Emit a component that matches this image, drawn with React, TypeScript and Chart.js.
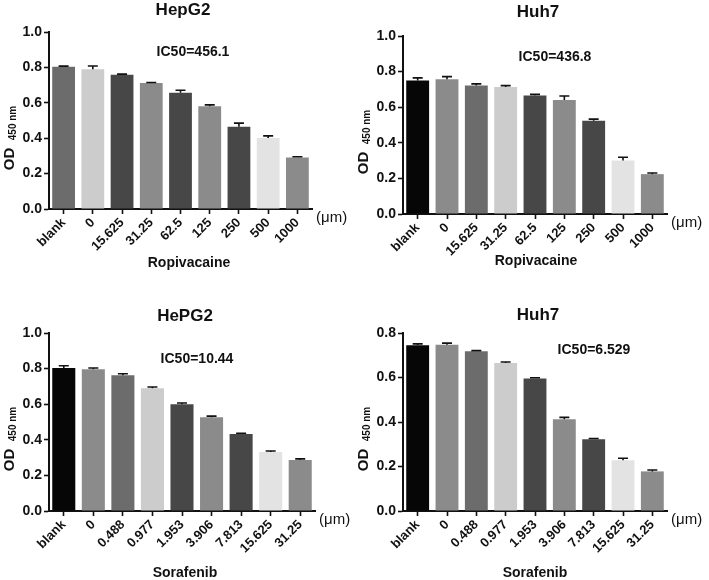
import { useEffect, useRef } from "react"
import { Chart, registerables } from "chart.js"

Chart.register(...registerables)

Chart.defaults.font.family = "'Liberation Sans', Arial, sans-serif"
Chart.defaults.color = "#111"

// doses
const ropiDoses = ["blank", "0", "15.625", "31.25", "62.5", "125", "250", "500", "1000"]
const soraDoses = ["blank", "0", "0.488", "0.977", "1.953", "3.906", "7.813", "15.625", "31.25"]

// OD 450 nm, mean and SD
const hepg2RopiMean = [0.803, 0.79, 0.758, 0.712, 0.657, 0.581, 0.465, 0.401, 0.291]
const hepg2RopiErr = [0.004, 0.018, 0.004, 0.003, 0.014, 0.007, 0.02, 0.012, 0.004]
const huh7RopiMean = [0.75, 0.757, 0.722, 0.714, 0.666, 0.641, 0.524, 0.3, 0.224]
const huh7RopiErr = [0.015, 0.015, 0.009, 0.007, 0.006, 0.022, 0.009, 0.019, 0.006]
const hepg2SoraMean = [0.803, 0.796, 0.762, 0.69, 0.6, 0.526, 0.433, 0.331, 0.287]
const hepg2SoraErr = [0.013, 0.007, 0.009, 0.007, 0.007, 0.007, 0.004, 0.006, 0.006]
const huh7SoraMean = [0.745, 0.747, 0.718, 0.665, 0.596, 0.412, 0.323, 0.228, 0.178]
const huh7SoraErr = [0.006, 0.0075, 0.003, 0.0045, 0.003, 0.009, 0.003, 0.009, 0.006]

const yTicksTo10 = [0, 0.2, 0.4, 0.6, 0.8, 1.0]
const yTicksTo08 = [0, 0.2, 0.4, 0.6, 0.8]

// greys
const BLACK = "#060606"
const DARK = "#474747"
const MIDDARK = "#6c6c6c"
const MID = "#8b8b8b"
const LIGHT = "#cccccc"
const PALE = "#e3e3e3"

const colorsTop = [MIDDARK, LIGHT, DARK, MID, DARK, MID, DARK, PALE, MID]
const colorsRest = [BLACK, MID, MIDDARK, LIGHT, DARK, MID, DARK, PALE, MID]

const INK = "#111"
const FONT = "'Liberation Sans', Arial, sans-serif"

interface PanelProps {
  left: number
  top: number
  width: number
  height: number
  labels: string[]
  means: number[]
  errs: number[]
  colors: string[]
  yTicks: number[]
  title: string
  ic50: string
  drug: string
  area: { t: number; b: number; l: number; r: number }
  titlePos: [number, number]
  icPos: [number, number]
  drugPos: [number, number]
}

function Panel(p: PanelProps) {
  const chartRef = useRef<HTMLCanvasElement>(null)
  const chartInstance = useRef<Chart | null>(null)

  useEffect(() => {
    if (!chartRef.current) return
    if (chartInstance.current) chartInstance.current.destroy()

    const ctx = chartRef.current.getContext("2d")
    if (!ctx) return

    const extras = {
      id: "extras",
      afterDatasetsDraw(chart: any) {
        const c = chart.ctx
        const y = chart.scales.y
        const meta = chart.getDatasetMeta(0)
        c.save()
        c.strokeStyle = INK
        c.lineWidth = 1.6
        meta.data.forEach((bar: any, i: number) => {
          const yErr = y.getPixelForValue(p.means[i] + p.errs[i])
          c.beginPath()
          c.moveTo(bar.x, bar.y)
          c.lineTo(bar.x, yErr)
          c.moveTo(bar.x - 5, yErr)
          c.lineTo(bar.x + 5, yErr)
          c.stroke()
        })
        c.restore()
      },
      afterDraw(chart: any) {
        const c = chart.ctx
        const a = chart.chartArea
        c.save()
        c.fillStyle = INK
        c.textAlign = "center"
        c.textBaseline = "middle"
        c.font = `bold 17px ${FONT}`
        c.fillText(p.title, p.titlePos[0], p.titlePos[1])
        c.font = `bold 14px ${FONT}`
        c.fillText(p.ic50, p.icPos[0], p.icPos[1])
        c.fillText(p.drug, p.drugPos[0], p.drugPos[1])
        c.textAlign = "left"
        c.font = `15px ${FONT}`
        c.fillText("(\u03bcm)", a.right + 4, a.bottom + 9)
        // y title: OD with small 450 nm
        c.save()
        c.translate(10, a.top + 127)
        c.rotate(-Math.PI / 2)
        c.textAlign = "center"
        c.font = `bold 15px ${FONT}`
        c.fillText("OD", 0, 0)
        c.restore()
        c.save()
        c.translate(13.5, a.top + 91)
        c.rotate(-Math.PI / 2)
        c.textAlign = "center"
        c.font = `bold 10px ${FONT}`
        c.fillText("450 nm", 0, 0)
        c.restore()
        c.restore()
      },
    }

    chartInstance.current = new Chart(ctx, {
      type: "bar",
      data: {
        labels: p.labels,
        datasets: [
          {
            data: p.means,
            backgroundColor: p.colors,
            borderWidth: 0,
            barPercentage: 0.78,
            categoryPercentage: 1,
          },
        ],
      },
      options: {
        responsive: false,
        animation: false,
        layout: {
          padding: { top: p.area.t, right: p.width - p.area.r, left: 0, bottom: 0 },
        },
        plugins: {
          legend: { display: false },
          tooltip: { enabled: false },
          title: { display: false },
        },
        scales: {
          x: {
            offset: true,
            grid: {
              display: true,
              drawOnChartArea: false,
              drawTicks: true,
              tickLength: 5,
              tickWidth: 1.6,
              tickColor: INK,
              offset: false,
            },
            border: { display: true, color: INK, width: 2 },
            ticks: {
              autoSkip: false,
              minRotation: 45,
              maxRotation: 45,
              color: INK,
              padding: 1,
              font: { size: 13, weight: "bold" },
            },
            afterFit: (s: any) => {
              s.height = p.height - p.area.b
            },
          },
          y: {
            min: 0,
            max: p.yTicks[p.yTicks.length - 1],
            afterBuildTicks: (s: any) => {
              s.ticks = p.yTicks.map((v) => ({ value: v }))
            },
            ticks: {
              color: INK,
              padding: 2,
              font: { size: 14, weight: "bold" },
              callback: (v: any) => Number(v).toFixed(1),
            },
            grid: {
              display: true,
              drawOnChartArea: false,
              drawTicks: true,
              tickLength: 5,
              tickWidth: 1.6,
              tickColor: INK,
            },
            border: { display: true, color: INK, width: 2 },
            afterFit: (s: any) => {
              s.width = p.area.l
            },
          },
        },
      },
      plugins: [extras],
    } as any)

    return () => {
      if (chartInstance.current) {
        chartInstance.current.destroy()
        chartInstance.current = null
      }
    }
  }, [])

  return (
    <div style={{ position: "absolute", left: p.left, top: p.top, width: p.width, height: p.height }}>
      <canvas ref={chartRef} width={p.width} height={p.height} />
    </div>
  )
}

export default function App() {
  return (
    <div style={{ position: "fixed", left: 0, top: 0, width: 709, height: 580, background: "#fff" }}>
      <Panel
        left={0}
        top={0}
        width={354}
        height={290}
        labels={ropiDoses}
        means={hepg2RopiMean}
        errs={hepg2RopiErr}
        colors={colorsTop}
        yTicks={yTicksTo10}
        title="HepG2"
        ic50="IC50=456.1"
        drug="Ropivacaine"
        area={{ t: 32, b: 209, l: 49, r: 312 }}
        titlePos={[183, 10]}
        icPos={[193, 52]}
        drugPos={[189, 263]}
      />
      <Panel
        left={354}
        top={0}
        width={355}
        height={290}
        labels={ropiDoses}
        means={huh7RopiMean}
        errs={huh7RopiErr}
        colors={colorsRest}
        yTicks={yTicksTo10}
        title="Huh7"
        ic50="IC50=436.8"
        drug="Ropivacaine"
        area={{ t: 36, b: 214, l: 49, r: 313 }}
        titlePos={[184, 12]}
        icPos={[201, 57]}
        drugPos={[182, 261]}
      />
      <Panel
        left={0}
        top={290}
        width={354}
        height={290}
        labels={soraDoses}
        means={hepg2SoraMean}
        errs={hepg2SoraErr}
        colors={colorsRest}
        yTicks={yTicksTo10}
        title="HePG2"
        ic50="IC50=10.44"
        drug="Sorafenib"
        area={{ t: 43, b: 221, l: 49, r: 315 }}
        titlePos={[185, 26]}
        icPos={[197, 69]}
        drugPos={[185, 283]}
      />
      <Panel
        left={354}
        top={290}
        width={355}
        height={290}
        labels={soraDoses}
        means={huh7SoraMean}
        errs={huh7SoraErr}
        colors={colorsRest}
        yTicks={yTicksTo08}
        title="Huh7"
        ic50="IC50=6.529"
        drug="Sorafenib"
        area={{ t: 43, b: 221, l: 49, r: 313 }}
        titlePos={[184, 25]}
        icPos={[240, 60]}
        drugPos={[181, 283]}
      />
    </div>
  )
}
